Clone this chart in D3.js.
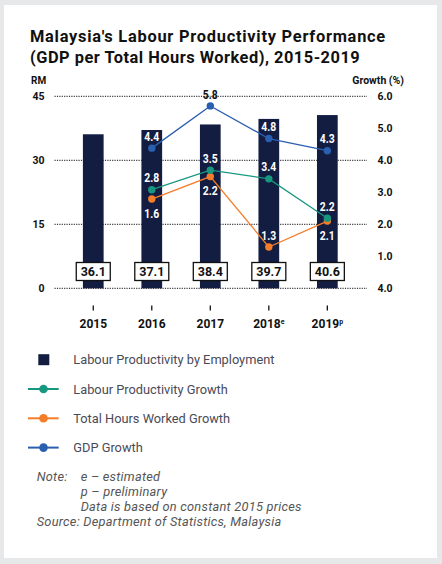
<!DOCTYPE html>
<html><head><meta charset="utf-8">
<script src="https://cdn.jsdelivr.net/npm/d3@7"></script>
<style>
html,body{margin:0;padding:0;background:#e7e8ea;}
svg{display:block;}
</style></head><body>
<svg id="c" width="442" height="564"></svg>
<script>
// ---- data ----
const years = ["2015", "2016", "2017", "2018", "2019"];
const yearSup = ["", "", "", "e", "p"];
const productivity = [36.1, 37.1, 38.4, 39.7, 40.6];
const growthYears = ["2016", "2017", "2018", "2019"];
// growth points as placed in the reference (right axis, %)
const lpGrowth = [3.08, 3.69, 3.42, 2.19];
const hoursGrowth = [2.79, 3.49, 1.29, 2.10];
const gdpGrowth = [4.38, 5.70, 4.68, 4.30];
// printed value labels
const lpLabels = ["2.8", "3.5", "3.4", "2.2"];
const hoursLabels = ["1.6", "2.2", "1.3", "2.1"];
const gdpLabels = ["4.4", "5.8", "4.8", "4.3"];
const leftTicks = [0, 15, 30, 45];
const rightTicks = [0, 1, 2, 3, 4, 5, 6];
const rightTickLabels = ["4.0", "1.0", "2.0", "3.0", "4.0", "5.0", "6.0"];
const legendItems = ["Labour Productivity by Employment", "Labour Productivity Growth", "Total Hours Worked Growth", "GDP Growth"];

// ---- styles ----
const C = { bar: "#131d41", lp: "#17977f", hours: "#f47d2a", gdp: "#2a5fb0", text: "#111", grey: "#4a4a56" };
const F = "Roboto, 'Noto Sans', sans-serif";

const svg = d3.select("#c");
svg.append("rect").attr("x", 4).attr("y", 5).attr("width", 433).attr("height", 553).attr("fill", "#fff");

// title
const title = svg.append("text").attr("font-family", F).attr("font-weight", 700)
  .attr("font-size", 16.4).attr("fill", C.text);
title.append("tspan").attr("x", 30).attr("y", 42).attr("letter-spacing", 0.75).text("Malaysia's Labour Productivity Performance");
title.append("tspan").attr("x", 30).attr("y", 63).attr("letter-spacing", 0.5).text("(GDP per Total Hours Worked), 2015-2019");

// scales
const yL = d3.scaleLinear().domain([0, 45]).range([288.3, 96.3]);
const yR = d3.scaleLinear().domain([0, 6]).range([288.3, 96.3]);
const x = d3.scaleBand().domain(years).range([64, 356.6]).paddingInner(0.646).paddingOuter(0.323);
const cx = d => x(d) + x.bandwidth() / 2;

// axis titles
svg.append("text").attr("x", 31).attr("y", 84).attr("font-family", F).attr("font-weight", 700)
  .attr("font-size", 10).attr("fill", C.text).text("RM");
svg.append("text").attr("x", 404).attr("y", 84).attr("text-anchor", "end").attr("font-family", F)
  .attr("font-weight", 700).attr("font-size", 10.5).attr("fill", C.text).text("Growth (%)");

// grid
svg.append("g").selectAll("line").data(leftTicks).join("line")
  .attr("x1", 54.5).attr("x2", 367).attr("y1", d => yL(d)).attr("y2", d => yL(d))
  .attr("stroke", "#111").attr("stroke-width", 1).attr("stroke-dasharray", "1.2,1.2");

// left axis
const gl = svg.append("g").attr("transform", "translate(44.5,0)")
  .call(d3.axisLeft(yL).tickValues(leftTicks).tickSize(0).tickPadding(0));
gl.select(".domain").remove();
gl.selectAll("text").attr("font-family", F).attr("font-weight", 700).attr("font-size", 10.5).attr("fill", C.text);

// right axis
const gr = svg.append("g").attr("transform", "translate(377.5,0)")
  .call(d3.axisRight(yR).tickValues(rightTicks).tickFormat((d, i) => rightTickLabels[i]).tickSize(0).tickPadding(0));
gr.select(".domain").remove();
gr.selectAll("text").attr("font-family", F).attr("font-weight", 700).attr("font-size", 10.5).attr("fill", C.text);

// bars
svg.append("g").selectAll("rect").data(productivity).join("rect")
  .attr("x", (d, i) => x(years[i])).attr("width", x.bandwidth())
  .attr("y", d => yL(d)).attr("height", d => yL(0) - yL(d)).attr("fill", C.bar);

// bar value boxes
const bx = svg.append("g").selectAll("g").data(productivity).join("g")
  .attr("transform", (d, i) => `translate(${cx(years[i])},${yL(0) - 17})`);
bx.append("rect").attr("x", -17).attr("y", -8.8).attr("width", 34).attr("height", 18)
  .attr("fill", "#fff").attr("stroke", "#111").attr("stroke-width", 1.3);
bx.append("text").attr("text-anchor", "middle").attr("y", 4.4).attr("font-family", F)
  .attr("font-weight", 700).attr("font-size", 12.5).attr("fill", C.text).text(d => d.toFixed(1));

// bottom axis
const gb = svg.append("g").attr("transform", "translate(0,305.5)")
  .call(d3.axisBottom(x).tickSize(5).tickPadding(5).tickFormat(() => ""));
gb.select(".domain").remove();
gb.selectAll(".tick line").attr("stroke", "#111").attr("stroke-width", 1.3);
gb.selectAll(".tick text").each(function (d, i) {
  const t = d3.select(this).attr("font-family", F).attr("font-weight", 700).attr("font-size", 12)
    .attr("fill", C.text).attr("dy", "1.05em");
  t.append("tspan").text(years[i]);
  if (yearSup[i]) t.append("tspan").attr("font-size", 7).attr("dy", "-0.55em").text(yearSup[i]);
});

// lines
const series = [
  { v: hoursGrowth, lab: hoursLabels, c: C.hours, key: "hours" },
  { v: lpGrowth, lab: lpLabels, c: C.lp, key: "lp" },
  { v: gdpGrowth, lab: gdpLabels, c: C.gdp, key: "gdp" }
];
const line = d3.line().x((d, i) => cx(growthYears[i])).y(d => yR(d));
series.forEach(s => {
  svg.append("path").datum(s.v).attr("d", line).attr("fill", "none").attr("stroke", s.c).attr("stroke-width", 1.3);
});
series.forEach(s => {
  svg.append("g").selectAll("circle").data(s.v).join("circle")
    .attr("cx", (d, i) => cx(growthYears[i])).attr("cy", d => yR(d)).attr("r", 3.7).attr("fill", s.c);
});
// growth labels (condensed bold)
series.forEach(s => {
  svg.append("g").selectAll("text").data(s.v).join("text")
    .each(function (d, i) {
      let ly = yR(d) - 12;
      if (s.key === "hours" && Math.abs(yR(d) - yR(lpGrowth[i])) < 40) ly = yR(d) + 14;
      const barTop = yL(productivity[years.indexOf(growthYears[i])]);
      d3.select(this).attr("transform", `translate(${cx(growthYears[i])},${ly + 4.6}) scale(0.8,1)`)
        .attr("text-anchor", "middle").attr("font-family", F).attr("font-weight", 700).attr("font-size", 13)
        .attr("fill", ly - 5 < barTop ? C.text : "#fff").text(s.lab[i]);
    });
});

// legend
const lg = svg.append("g").selectAll("g").data(legendItems).join("g")
  .attr("transform", (d, i) => `translate(0,${359.7 + i * 29.3})`);
lg.each(function (d, i) {
  const g = d3.select(this);
  if (i === 0) {
    g.append("rect").attr("x", 38.3).attr("y", -5.5).attr("width", 11).attr("height", 11).attr("fill", C.bar);
  } else {
    const col = [null, C.lp, C.hours, C.gdp][i];
    g.append("line").attr("x1", 28).attr("x2", 58.7).attr("stroke", col).attr("stroke-width", 2);
    g.append("circle").attr("cx", 43.5).attr("r", 4.3).attr("fill", col);
  }
  g.append("text").attr("x", 73.3).attr("y", 4.5).attr("font-family", F).attr("font-size", 12.8)
    .attr("fill", C.grey).text(d);
});

// notes
const notes = svg.append("g").attr("font-family", F).attr("font-style", "italic").attr("font-size", 12.8)
  .attr("letter-spacing", 0.25).attr("fill", "#555");
notes.append("text").attr("x", 36.7).attr("y", 481.2).text("Note:");
notes.append("text").attr("x", 80.7).attr("y", 481.2).text("e – estimated");
notes.append("text").attr("x", 80.7).attr("y", 496.3).text("p – preliminary");
notes.append("text").attr("x", 80.7).attr("y", 511.2).text("Data is based on constant 2015 prices");
notes.append("text").attr("x", 36.7).attr("y", 526.2).text("Source: Department of Statistics, Malaysia");
</script>
</body></html>
